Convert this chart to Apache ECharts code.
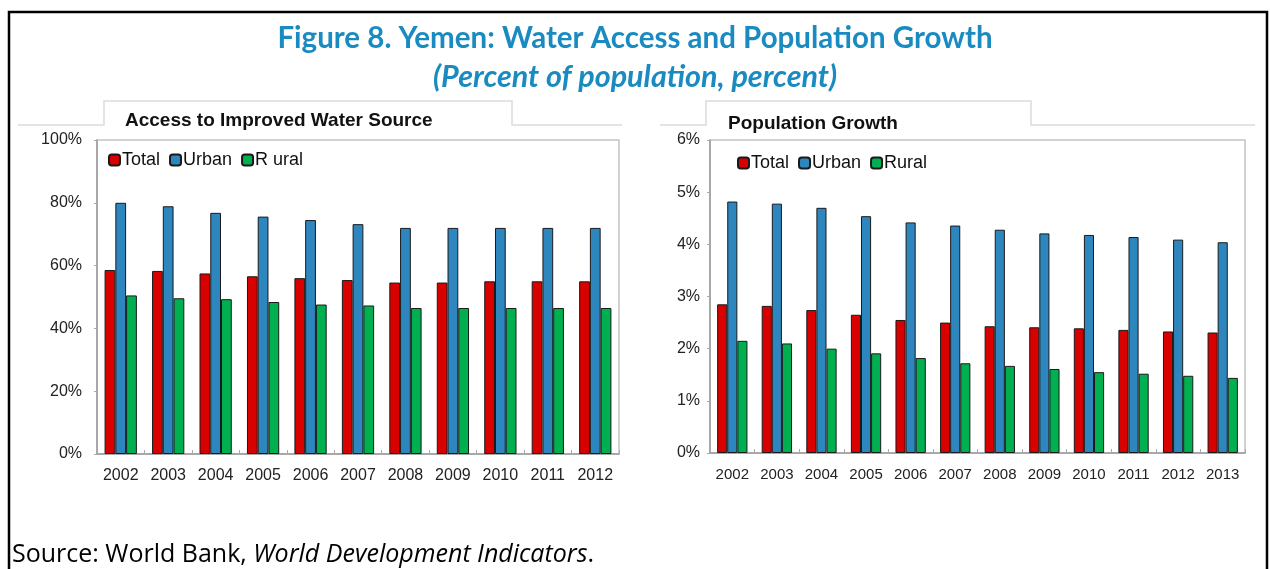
<!DOCTYPE html>
<html>
<head>
<meta charset="utf-8">
<script src="https://cdn.jsdelivr.net/npm/echarts@6/dist/echarts.min.js"></script>
<style>
  html, body { margin: 0; padding: 0; background: #fff; }
  #main { width: 1270px; height: 569px; }
</style>
</head>
<body>
<div id="main"></div>
<script>
// left panel: access to improved water source (%)
var waterYears = ['2002','2003','2004','2005','2006','2007','2008','2009','2010','2011','2012'];
var waterTotal = [58.6, 58.3, 57.5, 56.6, 56.0, 55.4, 54.6, 54.6, 55.0, 55.0, 55.0];
var waterUrban = [80.0, 78.9, 76.8, 75.6, 74.5, 73.2, 72.0, 72.0, 72.0, 72.0, 72.0];
var waterRural = [50.5, 49.6, 49.3, 48.4, 47.6, 47.3, 46.5, 46.5, 46.5, 46.5, 46.5];

// right panel: population growth (%)
var popYears = ['2002','2003','2004','2005','2006','2007','2008','2009','2010','2011','2012','2013'];
var popTotal = [2.85, 2.82, 2.74, 2.65, 2.55, 2.50, 2.43, 2.41, 2.39, 2.36, 2.33, 2.31];
var popUrban = [4.82, 4.78, 4.70, 4.54, 4.42, 4.36, 4.28, 4.21, 4.18, 4.14, 4.09, 4.04];
var popRural = [2.15, 2.10, 2.00, 1.91, 1.82, 1.72, 1.67, 1.61, 1.55, 1.52, 1.48, 1.44];

var red = '#D90000', blue = '#2E86BE', green = '#00B050';
var labelFont = 'Liberation Sans';

var chart = echarts.init(document.getElementById('main'));

function bar(name, data, color, idx) {
    return {
        name: name,
        type: 'bar',
        xAxisIndex: idx,
        yAxisIndex: idx,
        data: data,
        barGap: '0%',
        barCategoryGap: '32%',
        itemStyle: { color: color, borderColor: '#1a1a1a', borderWidth: 1 }
    };
}

function catAxis(idx, cats, size) {
    return {
        type: 'category', gridIndex: idx, data: cats,
        axisLine: { lineStyle: { color: '#9a9a9a', width: 1.5 } },
        axisTick: { show: true, inside: true, length: 4, lineStyle: { color: '#aaa' } },
        axisLabel: { interval: 0, color: '#222', fontSize: size, fontFamily: labelFont, margin: 14 }
    };
}

function valAxis(idx, max, step, margin) {
    return {
        type: 'value', gridIndex: idx, min: 0, max: max, interval: step,
        axisLine: { show: true, lineStyle: { color: '#9a9a9a', width: 1.5 } },
        axisTick: { show: true, length: 3, lineStyle: { color: '#aaa' } },
        splitLine: { show: false },
        axisLabel: { formatter: '{value}%', color: '#222', fontSize: 16, fontFamily: labelFont, margin: margin }
    };
}

var tabLine = { stroke: '#dcdcdc', lineWidth: 1.5 };

option = {
    backgroundColor: '#fff',
    animation: false,
    title: [
        {
            text: 'Figure 8. Yemen: Water Access and Population Growth',
            left: 'center', top: 18,
            textStyle: { color: '#1A8BC0', fontSize: 29.5, fontWeight: 'bold', fontFamily: 'Lato' }
        },
        {
            text: '(Percent of population, percent)',
            left: 'center', top: 57,
            textStyle: { color: '#1A8BC0', fontSize: 30.5, fontWeight: 'bold', fontStyle: 'italic', fontFamily: 'Lato' }
        },
        {
            text: 'Access to Improved Water Source',
            left: 120, top: 106,
            textStyle: { color: '#111', fontSize: 19, fontWeight: 'bold', fontFamily: labelFont }
        },
        {
            text: 'Population Growth',
            left: 723, top: 109,
            textStyle: { color: '#111', fontSize: 19, fontWeight: 'bold', fontFamily: labelFont }
        }
    ],
    legend: [
        {
            data: ['Total', 'Urban', 'R ural'],
            left: 103, top: 146,
            itemWidth: 11, itemHeight: 11, itemGap: 9,
            textStyle: { fontSize: 18, color: '#111', fontFamily: labelFont, padding: [0, 0, 0, -3] }
        },
        {
            data: ['Total', 'Urban', 'Rural'],
            left: 732, top: 149,
            itemWidth: 11, itemHeight: 11, itemGap: 9,
            textStyle: { fontSize: 18, color: '#111', fontFamily: labelFont, padding: [0, 0, 0, -3] }
        }
    ],
    grid: [
        { left: 97, right: 651, top: 140, bottom: 115, show: true, borderColor: '#c4c4c4', borderWidth: 1.5 },
        { left: 710, right: 25, top: 140, bottom: 116, show: true, borderColor: '#c4c4c4', borderWidth: 1.5 }
    ],
    xAxis: [catAxis(0, waterYears, 16), catAxis(1, popYears, 15)],
    yAxis: [valAxis(0, 100, 20, 15), valAxis(1, 6, 1, 10)],
    series: [
        bar('Total', waterTotal, red, 0),
        bar('Urban', waterUrban, blue, 0),
        bar('R ural', waterRural, green, 0),
        bar('Total', popTotal, red, 1),
        bar('Urban', popUrban, blue, 1),
        bar('Rural', popRural, green, 1)
    ],
    graphic: [
        // outer frame
        { type: 'rect', shape: { x: 9, y: 12, width: 1258, height: 600 }, style: { fill: 'none', stroke: '#000', lineWidth: 2.5 } },
        // panel title tabs
        { type: 'polyline', shape: { points: [[18, 125], [104, 125], [104, 101], [512, 101], [512, 125], [622, 125]] }, style: tabLine },
        { type: 'polyline', shape: { points: [[660, 125], [706, 125], [706, 101], [1031, 101], [1031, 125], [1255, 125]] }, style: tabLine },
        // source note
        {
            type: 'text', left: 12, top: 542,
            style: {
                text: '{n|Source: World Bank, }{i|World Development Indicators}{n|.}',
                rich: {
                    n: { fontSize: 25, fontFamily: 'Open Sans', fill: '#000' },
                    i: { fontSize: 25, fontFamily: 'Open Sans', fontStyle: 'italic', fill: '#000' }
                }
            }
        }
    ]
};

chart.setOption(option);
</script>
</body>
</html>
